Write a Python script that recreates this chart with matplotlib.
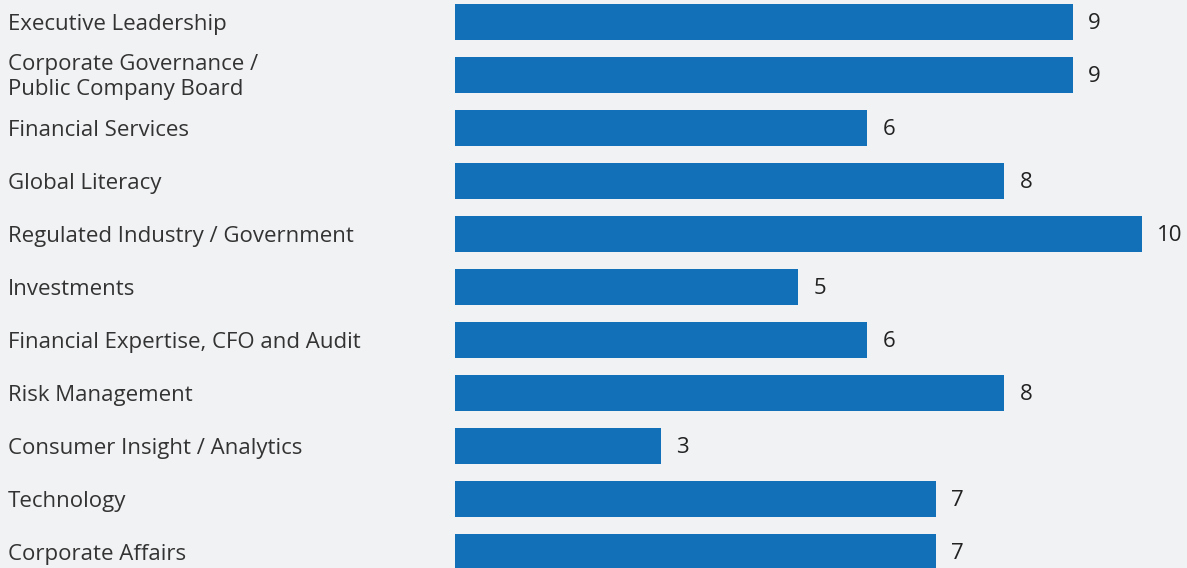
import matplotlib.pyplot as plt
import matplotlib.transforms as mtransforms

plt.rcParams['font.family'] = ['Open Sans', 'DejaVu Sans']

categories = [
    'Executive Leadership',
    'Corporate Governance /\nPublic Company Board',
    'Financial Services',
    'Global Literacy',
    'Regulated Industry / Government',
    'Investments',
    'Financial Expertise, CFO and Audit',
    'Risk Management',
    'Consumer Insight / Analytics',
    'Technology',
    'Corporate Affairs',
]
counts = [9, 9, 6, 8, 10, 5, 6, 8, 3, 7, 7]

bg = '#f1f2f4'
bar_color = '#1170b8'

W, H = 1187, 568
fig = plt.figure(figsize=(W / 100, H / 100), dpi=100, facecolor=bg)
ax = fig.add_axes([455 / W, 0, 1 - 455 / W, 1])
ax.set_facecolor(bg)

unit = 68.67   # pixels per count
pitch = 53.0   # pixels between bar centres
ypos = list(range(len(categories)))
ax.barh(ypos, counts, height=36 / pitch, color=bar_color)

ax.set_xlim(0, (W - 455) / unit)
ax.set_ylim((H - 22) / pitch, -22 / pitch)
ax.axis('off')

trans = mtransforms.blended_transform_factory(fig.transFigure, ax.transData)
for y, name in zip(ypos, categories):
    ax.annotate(name, (8 / W, y), xycoords=trans, xytext=(0, -1.5),
                textcoords='offset points', ha='left', va='center',
                fontsize=16, color='#333333', linespacing=1.2)

for y, v in zip(ypos, counts):
    ax.annotate(str(v), (v, y), xytext=(11, -1), textcoords='offset points',
                ha='left', va='center', fontsize=16, color='#222222')

fig.savefig('out.png', dpi=100, facecolor=bg)
